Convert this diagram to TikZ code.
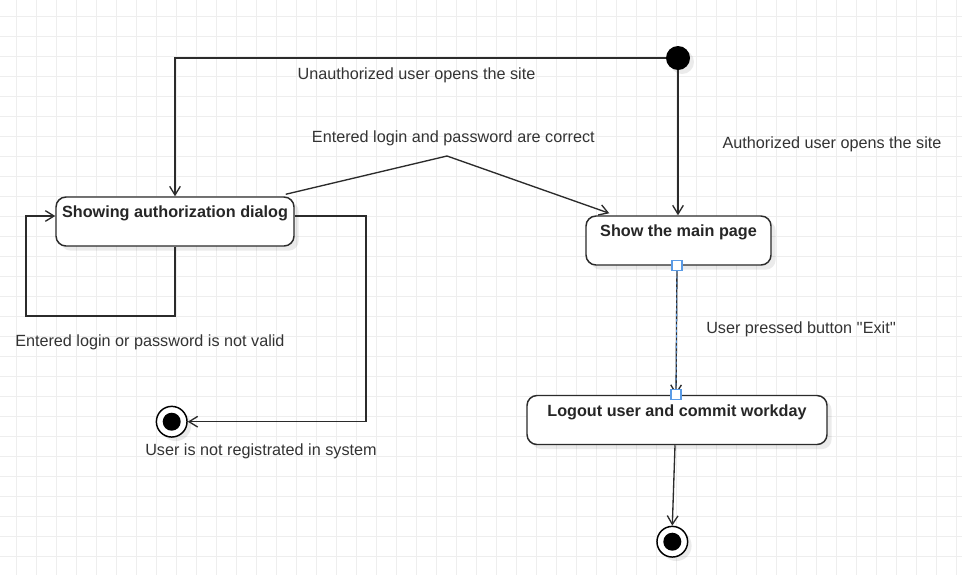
\documentclass[tikz,border=0pt]{standalone}
\usepackage{fontspec}
\setmainfont{Liberation Sans}
\usetikzlibrary{arrows.meta,calc,shadows}
\definecolor{gridc}{HTML}{EEEEEE}
\definecolor{txt}{HTML}{333333}
\definecolor{edge}{HTML}{2B2B2B}
\definecolor{selblue}{HTML}{5A9BE6}
\begin{document}
\begin{tikzpicture}[x=0.75pt,y=-0.75pt,
  font=\fontsize{12.15}{14}\selectfont,
  statebox/.style={draw=edge, line width=1.1pt, rounded corners=7.5pt, fill=white,
    drop shadow={shadow xshift=3.5pt, shadow yshift=-3.5pt, opacity=0.08, fill=black}, inner sep=0pt},
  title/.style={text=black!85, font=\fontsize{12.15}{14}\selectfont\bfseries, inner sep=0pt, anchor=base},
  lbl/.style={text=txt, inner sep=0pt, anchor=base west},
  arr/.style={draw=edge, line width=1pt, -{Straight Barb[length=6.5pt,width=8pt,line width=1pt]}},
  ln/.style={draw=edge, line width=1pt},
  handle/.style={draw=selblue, fill=white, line width=0.9pt, minimum size=7.5pt, inner sep=0pt}
]
\useasboundingbox (0,0) rectangle (962,575);
\fill[white] (0,0) rectangle (962,575);
% grid
\foreach \k in {0,...,47} \draw[gridc, line width=0.75pt] (16.7+20*\k,0) -- (16.7+20*\k,575);
\foreach \k in {0,...,27} \draw[gridc, line width=0.75pt] (0,16.7+20*\k) -- (962,16.7+20*\k);

% states
\node[statebox, minimum width=178.5pt, minimum height=36.75pt] (auth) at (175,221.5) {};
\node[title] (authT) at (175,217.3) {Showing authorization dialog};
\node[statebox, minimum width=138.75pt, minimum height=36.75pt] (main) at (678.5,240.5) {};
\node[title] (mainT) at (678.5,236.7) {Show the main page};
\node[statebox, minimum width=225pt, minimum height=36.75pt] (logout) at (677,420) {};
\node[title] (logoutT) at (677,416.3) {Logout user and commit workday};

% initial and final states
\node[circle, fill=black, minimum size=18pt, inner sep=0pt,
  drop shadow={shadow xshift=3pt, shadow yshift=-3pt, opacity=0.08, fill=black}] (init) at (678,58) {};
\node[circle, draw=black, line width=1.1pt, fill=white, minimum size=23pt, inner sep=0pt,
  drop shadow={shadow xshift=3pt, shadow yshift=-3pt, opacity=0.08, fill=black}] (fin1) at (171.7,421.7) {};
\fill[black] (fin1) circle (6.75pt);
\node[circle, draw=black, line width=1.1pt, fill=white, minimum size=23pt, inner sep=0pt,
  drop shadow={shadow xshift=3pt, shadow yshift=-3pt, opacity=0.08, fill=black}] (fin2) at (672.3,541.7) {};
\fill[black] (fin2) circle (6.75pt);

% coordinates
\coordinate (peak) at (447,156);
\coordinate (loop) at (26,316);
\coordinate (rc) at (366,216);

% connectors
\draw[arr] (init.west) -| (auth.north);
\draw[arr] (init.south) -- (init.south |- main.north);
\draw[arr] ($(auth.north east)+(-9,-2)$) -- (peak) -- ($(main.north west)+(24,-2)$);
\draw[arr] (auth.south) |- (loop) |- ($(auth.west)+(0,-5.5)$);
\draw[arr] ($(auth.east)+(0,-5.5)$) -- (rc) |- (fin1.east);
\draw[arr] ($(logout.south)+(-2,0)$) -- (fin2.north);
% selected edge
\draw[arr] ($(main.south)+(-1.5,0)$) -- ($(logout.north)+(-1,0)$);
\draw[selblue, line width=0.6pt, dash pattern=on 2pt off 2pt] ($(main.south)+(-1.5,0)$) -- ($(logout.north)+(-1,-3)$);
\node[handle] (h1) at ($(main.south)+(-1.5,0)$) {};
\node[handle] (h2) at ($(logout.north)+(-1,0)$) {};

% labels
\node[lbl] (l1) at (297.3,79.3) {Unauthorized user opens the site};
\node[lbl] (l2) at (311.7,142.3) {Entered login and password are correct};
\node[lbl] (l3) at (722.3,148.3) {Authorized user opens the site};
\node[lbl] (l4) at (15,346.7) {Entered login or password is not valid};
\node[lbl] (l5) at (145,455.7) {User is not registrated in system};
\node[lbl] (l6) at (706,333) {User pressed button \textquotesingle\textquotesingle Exit\textquotesingle\textquotesingle};
\end{tikzpicture}
\end{document}
